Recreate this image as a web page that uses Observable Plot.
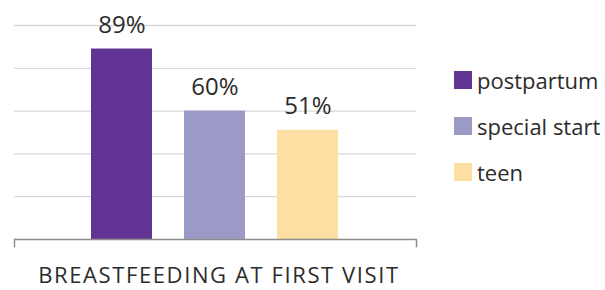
<!DOCTYPE html>
<html>
<head>
<meta charset="utf-8">
<script src="https://cdn.jsdelivr.net/npm/d3@7"></script>
<script src="https://cdn.jsdelivr.net/npm/@observablehq/plot@0.6"></script>
<style>
  html, body { margin: 0; padding: 0; background: #fff; }
  #wrap { position: relative; width: 605px; height: 290px; font-family: "Open Sans", sans-serif; color: #2b2b2b; }
  #chart { position: absolute; left: 0; top: 0; }
  #title { position: absolute; left: 14px; width: 410px; top: 263px; text-align: center; font-size: 22px; letter-spacing: 1.6px; white-space: nowrap; line-height: 22px; }
  #legend { position: absolute; left: 454px; top: 71px; }
  .row { display: flex; align-items: center; height: 18px; margin-bottom: 28px; font-size: 22px; white-space: nowrap; }
  .sw { width: 18px; height: 18px; margin-right: 5px; flex: none; }
</style>
</head>
<body>
<div id="wrap">
  <div id="chart"></div>
  <div id="legend"></div>
  <div id="title"></div>
</div>
<script>
const category = "BREASTFEEDING AT FIRST VISIT";
const series = ["postpartum", "special start", "teen"];
const values = [89, 60, 51];
const colors = ["#613393", "#9B9AC6", "#FDDFA3"];
const gridTicks = [20, 40, 60, 80, 100];

const data = series.map((s, i) => ({series: s, value: values[i]}));

const chart = Plot.plot({
  width: 605,
  height: 290,
  marginLeft: 14,
  marginRight: 189,
  marginTop: 25,
  marginBottom: 44,
  style: {fontFamily: "Open Sans, sans-serif", background: "white"},
  x: {domain: series, paddingInner: 0.34, paddingOuter: 0.82, axis: null},
  y: {domain: [-3.3, 100], axis: null},
  color: {domain: series, range: colors},
  marks: [
    Plot.ruleY(gridTicks, {stroke: "#d9d9d9", strokeWidth: 1.3}),
    Plot.barY(data, {x: "series", y: "value", fill: "series"}),
    Plot.ruleY([0], {stroke: "#8c8c8c", strokeWidth: 1.5}),
    Plot.frame({anchor: "left", insetTop: 214, stroke: "#8c8c8c", strokeWidth: 1.5}),
    Plot.frame({anchor: "right", insetTop: 214, stroke: "#8c8c8c", strokeWidth: 1.5}),
    Plot.text(data, {x: "series", y: "value", text: d => d.value + "%", lineAnchor: "bottom", dy: -16, fontSize: 24, fill: "#2b2b2b"})
  ]
});
document.getElementById("chart").appendChild(chart);

document.getElementById("title").textContent = category;
const legend = document.getElementById("legend");
series.forEach((s, i) => {
  const row = document.createElement("div");
  row.className = "row";
  const sw = document.createElement("div");
  sw.className = "sw";
  sw.style.background = colors[i];
  const lab = document.createElement("span");
  lab.textContent = s;
  row.appendChild(sw);
  row.appendChild(lab);
  legend.appendChild(row);
});
</script>
</body>
</html>
